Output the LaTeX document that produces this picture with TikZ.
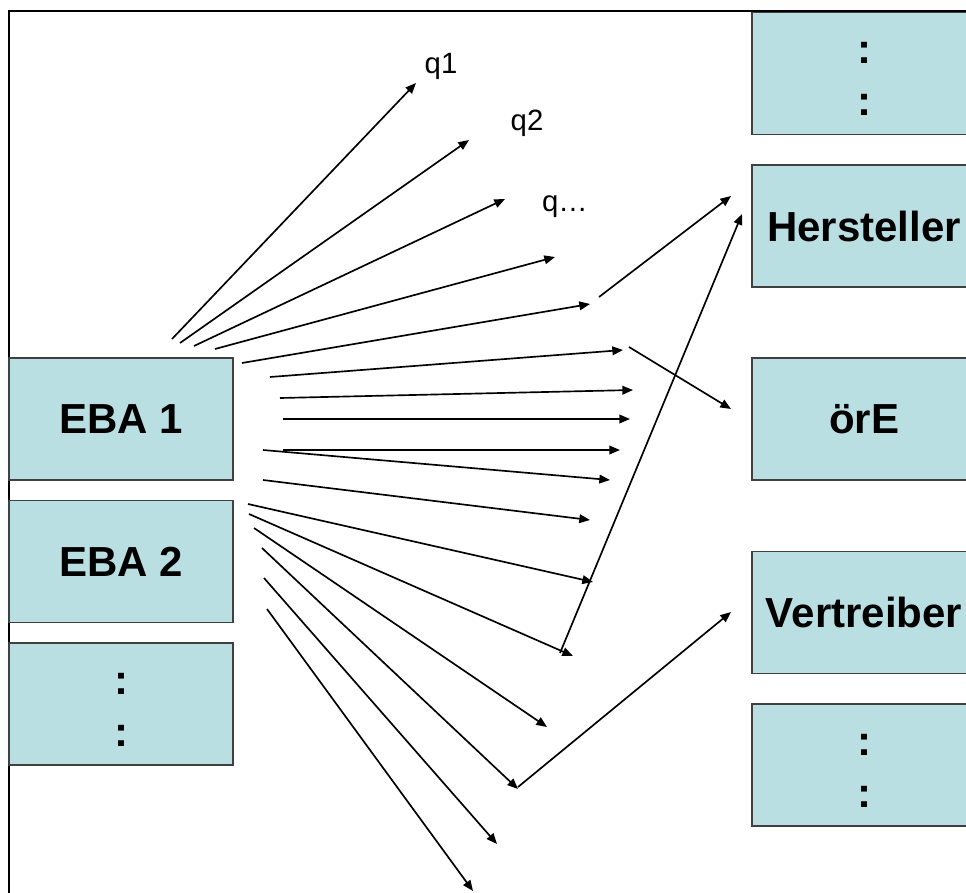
\documentclass[tikz,border=0pt]{standalone}
\usepackage{fontspec}
\setmainfont{Liberation Sans}
\usetikzlibrary{arrows.meta}
\definecolor{boxfill}{RGB}{186,223,227}
\newcommand{\vdotsbox}{\raisebox{-4.5pt}[\height][\depth]{\begin{tabular}{@{}c@{}}:\\:\end{tabular}}}
\begin{document}
\begin{tikzpicture}[x=0.75pt,y=-0.75pt,
  box/.style={draw=black!75, line width=0.8pt, fill=boxfill, minimum width=168pt, minimum height=91.5pt, inner sep=0pt, align=center, font=\fontsize{31.5}{39}\selectfont\bfseries},
  arr/.style={line width=1.25pt, -{Triangle[length=8pt,width=6.5pt]}},
  qlab/.style={font=\fontsize{22}{26}\selectfont, inner sep=0pt}]
\useasboundingbox (0,0) rectangle (966,892);
\clip (0,0) rectangle (966,892);
\draw[line width=1.2pt] (9,11) rectangle (1100,1000);
% left boxes
\node[box] (eba1) at (121,419) {EBA 1};
\node[box] (eba2) at (121,561.5) {EBA 2};
\node[box] (ldots) at (121,704) {\vdotsbox};
% right boxes
\node[box] (rdots1) at (864,73.5) {\vdotsbox};
\node[box] (herst) at (864,226) {Hersteller};
\node[box] (ore) at (864,419) {örE};
\node[box] (vertr) at (864,612.5) {Vertreiber};
\node[box] (rdots2) at (864,765) {\vdotsbox};
% labels
\node[qlab] (q1) at (441,66) {q1};
\node[qlab] (q2) at (527,123) {q2};
\node[qlab] (q3) at (565,207) {q…};
% fan coordinates
\coordinate (s1) at (172,339);  \coordinate (e1) at (416,83);
\coordinate (s2) at (180,343);  \coordinate (e2) at (469,140);
\coordinate (s3) at (194,346);  \coordinate (e3) at (505,199);
\coordinate (s4) at (215,349);  \coordinate (e4) at (555,257);
\coordinate (s5) at (242,363);  \coordinate (e5) at (590,304);
\coordinate (s6) at (270,377);  \coordinate (e6) at (623,350);
\coordinate (s7) at (280,398);  \coordinate (e7) at (633,390);
\coordinate (s8) at (283,419);  \coordinate (e8) at (630,419);
\coordinate (s9) at (283,450);  \coordinate (e9) at (620,450);
\coordinate (s10) at (263,450); \coordinate (e10) at (610,480);
\coordinate (s11) at (263,480); \coordinate (e11) at (590,520);
\coordinate (s12) at (248,504); \coordinate (e12) at (593,582);
\coordinate (s13) at (249,514); \coordinate (e13) at (573,656);
\coordinate (s14) at (254,528); \coordinate (e14) at (547,727);
\coordinate (s15) at (262,548); \coordinate (e15) at (518,789);
\coordinate (s16) at (264,578); \coordinate (e16) at (497,844);
\coordinate (s17) at (267,609); \coordinate (e17) at (473,891);
\foreach \i in {1,...,17} { \draw[arr] (s\i) -- (e\i); }
% onward arrows
\coordinate (a1) at (599,297);  \coordinate (a2) at (731,196);
\coordinate (b1) at (629,347);  \coordinate (b2) at (731,409);
\coordinate (c1) at (560,653);  \coordinate (c2) at (742,214);
\coordinate (d1) at (518,787);  \coordinate (d2) at (731,612);
\draw[arr] (a1) -- (a2);
\draw[arr] (b1) -- (b2);
\draw[arr] (c1) -- (c2);
\draw[arr] (d1) -- (d2);
\end{tikzpicture}
\end{document}
